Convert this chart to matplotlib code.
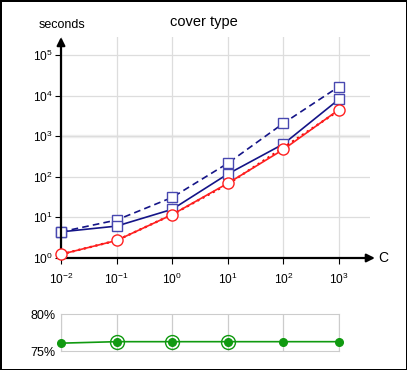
import matplotlib.pyplot as plt

plt.rcParams['font.family'] = ['Liberation Sans', 'DejaVu Sans']

C = [1e-2, 1e-1, 1e0, 1e1, 1e2, 1e3]
red_solid = [1.23, 2.7, 11.7, 69, 470, 4500]
red_dashed = [1.23, 2.7, 11.7, 66, 520, 4300]
blue_solid = [4.4, 6.1, 15.8, 117, 640, 8100]
blue_dashed = [4.4, 8.6, 31, 215, 2070, 16600]
accuracy = [76.1, 76.3, 76.3, 76.3, 76.3, 76.3]
ringed = [False, True, True, True, False, False]

fig = plt.figure(figsize=(4.07, 3.70), dpi=100)
fig.patch.set_edgecolor('black')
fig.patch.set_linewidth(2)

# main timing panel
ax = fig.add_axes([61 / 407, 1 - 258 / 370, 309 / 407, 221 / 370])
ax.set_xscale('log')
ax.set_yscale('log')
ax.set_xlim(1e-2, 10 ** 3.557)
ax.set_ylim(1, 10 ** 5.44)
ax.grid(True, color='#dddddd', linewidth=0.9)
ax.axhline(1e3, color='#f0f0f0', linewidth=2.5, zorder=0)
ax.set_axisbelow(True)
for s in ['top', 'right', 'left', 'bottom']:
    ax.spines[s].set_visible(False)
ax.set_xticks([1e-2, 1e-1, 1e0, 1e1, 1e2, 1e3])
ax.set_yticks([1e0, 1e1, 1e2, 1e3, 1e4, 1e5])
ax.minorticks_off()
ax.tick_params(length=4, width=0.8, labelsize=8.6, pad=2)
ax.tick_params(axis='x', pad=6)

blue = '#141487'
ax.plot(C, blue_dashed, '--', color=blue, lw=1.2, dashes=(4, 2.5), marker='s', ms=7,
        mfc='white', mec='#4848b0', mew=1, clip_on=False, zorder=3)
ax.plot(C, blue_solid, '-', color=blue, lw=1.2, marker='s', ms=7,
        mfc='white', mec='#4848b0', mew=1, clip_on=False, zorder=3)
ax.plot(C, red_dashed, ':', color='#ee0000', lw=1.6, clip_on=False, zorder=3)
ax.plot(C, red_solid, '-', color='#ff2020', lw=1.2, marker='o', ms=8,
        mfc='white', mec='#ff2020', mew=1, clip_on=False, zorder=4)

# axis arrows
ax.annotate('', xy=(1.016, 0), xytext=(0, 0), xycoords='axes fraction',
            arrowprops=dict(arrowstyle='-|>', color='black', lw=1.6,
                            mutation_scale=12, shrinkA=0, shrinkB=0))
ax.annotate('', xy=(0, 1.0), xytext=(0, 0), xycoords='axes fraction',
            arrowprops=dict(arrowstyle='-|>', color='black', lw=1.6,
                            mutation_scale=12, shrinkA=0, shrinkB=0))
fig.text(383 / 407, 1 - 258 / 370, 'C', ha='center', va='center', fontsize=10)
fig.text(62 / 407, 1 - 25 / 370, 'seconds', ha='center', va='center', fontsize=9)
fig.text(204 / 407, 1 - 22 / 370, 'cover type', ha='center', va='center', fontsize=10.5)

# accuracy panel
ax2 = fig.add_axes([61 / 407, 1 - 351.3 / 370, 278 / 407, 37 / 370])
ax2.set_xscale('log')
ax2.set_xlim(1e-2, 1e3)
ax2.set_ylim(75, 80)
ax2.set_xticks(C)
ax2.minorticks_off()
ax2.set_yticks([75, 80])
ax2.set_yticklabels(['75%', '80%'])
ax2.tick_params(length=0, labelsize=9, pad=4, labelbottom=False)
ax2.grid(True, axis='x', color='#cccccc', linewidth=0.9)
for s in ax2.spines.values():
    s.set_color('#cccccc')
green = '#109a10'
ax2.plot(C, accuracy, '-', color=green, lw=1.2, marker='o', ms=5.5,
         mfc=green, mec=green, clip_on=False, zorder=3)
ax2.plot([c for c, r in zip(C, ringed) if r], [a for a, r in zip(accuracy, ringed) if r],
         'o', ms=10, mfc='none', mec=green, mew=1, clip_on=False, zorder=3)

fig.savefig('out.png', dpi=100, edgecolor=fig.get_edgecolor())
